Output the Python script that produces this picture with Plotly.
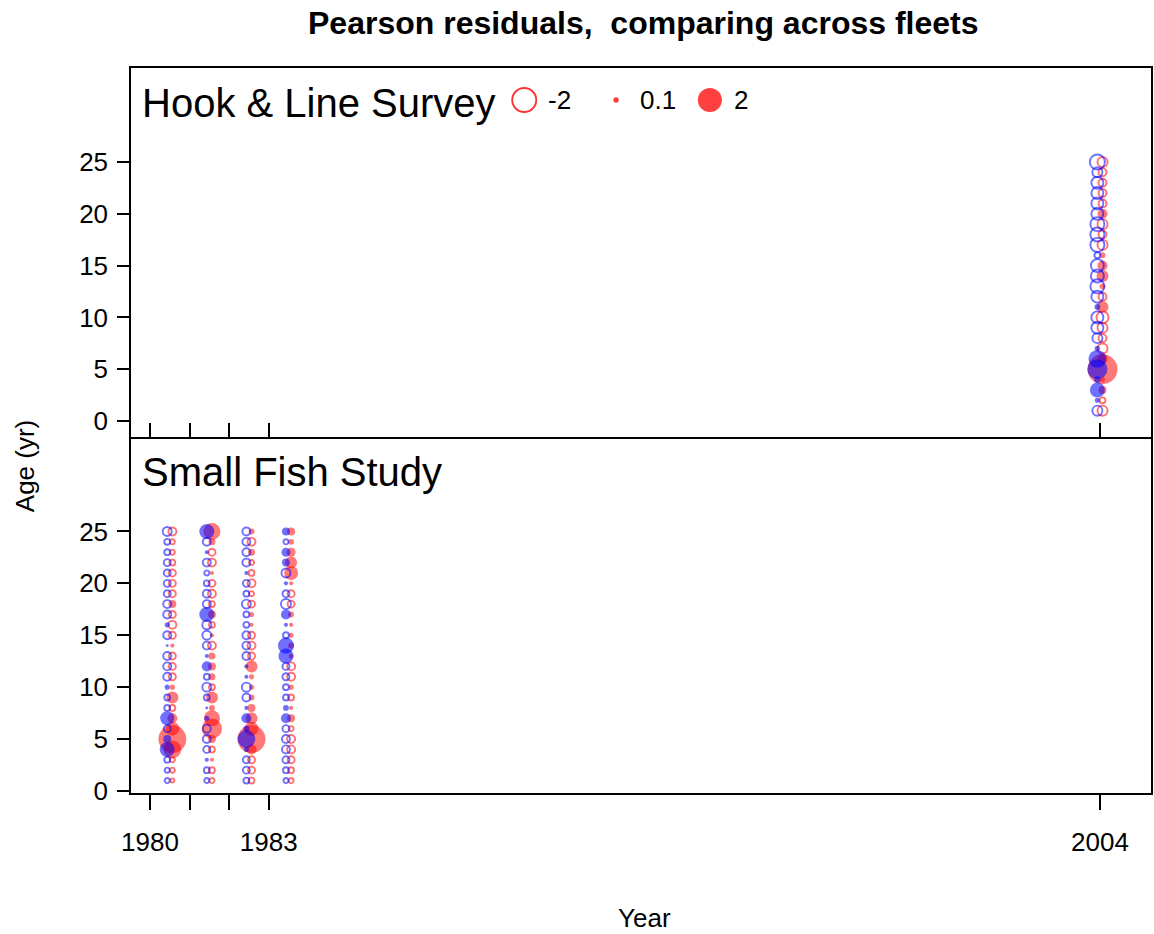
import numpy as np
import plotly.graph_objects as go

# ---------------- data ----------------
ages = list(range(1, 26))

hkl_years = [2004.0]
sfs_years = [1980.5, 1981.5, 1982.5, 1983.5]

# Hook & Line Survey, 2004 (ages 1..25)
hkl_f = [[-0.35, -0.12, 0.22, 0.09, 3.1, 0.35, -0.35, -0.22, -0.35, -0.5,
          0.5, -0.22, 0.12, 0.5, 0.35, 0.12, -0.35, -0.22, -0.35, 0.35,
          -0.22, -0.22, -0.22, -0.22, -0.35]]
hkl_m = [[-0.35, 0.09, 0.78, 0.15, 1.4, 1.1, 0.1, -0.35, -0.5, -0.5,
          0.12, -0.5, -0.68, -0.58, -0.58, -0.12, -0.68, -0.68, -0.68, -0.5,
          -0.5, -0.5, -0.5, -0.35, -0.78]]

# Small Fish Study, 1980-1983 (ages 1..25)
sfs_f = [
    [-0.055, -0.09, -0.09, 1.1, 2.7, 0.68, 0.35, -0.12, 0.5, 0.09,
     -0.17, -0.17, -0.17, 0.06, -0.17, -0.22, -0.17, 0.22, -0.17, -0.17,
     -0.17, -0.12, -0.09, -0.09, -0.22],
    [-0.09, -0.12, 0.06, -0.12, 0.22, 1.4, 0.9, 0.12, 0.5, -0.12,
     0.17, 0.22, 0.17, -0.22, 0.06, -0.12, 0.22, -0.12, -0.22, -0.17,
     0.06, -0.22, -0.17, 0.17, 1.0],
    [-0.12, -0.17, -0.17, 0.35, 2.7, 0.68, 0.5, 0.22, 0.12, 0.09,
     0.09, 0.5, -0.17, -0.22, -0.17, 0.06, 0.09, -0.17, -0.09, -0.22,
     -0.12, -0.09, 0.17, -0.22, 0.12],
    [-0.09, -0.12, -0.17, -0.22, -0.22, -0.09, 0.22, 0.06, -0.12, 0.09,
     -0.22, -0.22, 0.09, 0.12, 0.09, 0.06, 0.12, -0.17, -0.17, 0.06,
     0.68, 0.5, 0.28, 0.12, 0.22],
]
sfs_m = [
    [-0.09, -0.09, -0.12, 0.78, 0.22, -0.17, 0.68, -0.12, -0.12, 0.09,
     -0.22, -0.22, -0.22, 0.03, -0.22, 0.09, -0.22, -0.22, -0.17, -0.17,
     -0.17, -0.17, -0.12, -0.12, -0.28],
    [-0.09, -0.12, 0.06, -0.17, -0.22, -0.22, 0.09, 0.03, -0.12, -0.28,
     -0.12, 0.35, 0.06, -0.22, -0.28, -0.28, 0.78, -0.22, -0.22, -0.12,
     -0.09, -0.22, 0.06, -0.22, 0.78],
    [-0.12, -0.17, -0.17, 0.09, 1.1, 0.12, 0.35, 0.06, -0.22, -0.28,
     0.06, 0.06, -0.22, -0.22, -0.22, -0.12, -0.12, -0.28, -0.12, -0.17,
     0.06, -0.22, -0.22, -0.22, -0.22],
    [-0.09, -0.12, -0.17, -0.22, -0.22, -0.17, 0.35, 0.12, -0.12, -0.12,
     -0.17, -0.17, 0.78, 0.89, -0.12, 0.06, 0.35, -0.35, -0.17, 0.06,
     -0.28, 0.22, 0.28, -0.09, 0.22],
]

legend_vals = [-2, 0.1, 2]
legend_labels = ["-2", "0.1", "2"]

panel_names = ["Hook & Line Survey", "Small Fish Study"]
xtick_vals = [1980, 1981, 1982, 1983, 2004]
xtick_text = ["1980", "", "", "1983", "2004"]
ytick_vals = [0, 5, 10, 15, 20, 25]

# ---------------- styling ----------------
FONT = "Liberation Sans, Arial, sans-serif"
RED_FILL = "rgba(255,0,0,0.75)"
BLUE_FILL = "rgba(0,0,255,0.8)"
RED_LINE = "rgba(255,0,0,0.8)"
BLUE_LINE = "rgba(0,0,255,0.8)"
RING_W = 1.9
SCALE = 17.0      # px diameter for |z| = 1
SEX_OFF = 0.065   # year offset between sexes

W, H = 1154, 934
L, R, T, B = 131, 1, 68, 141
PW, PH = W - L - R, H - T - B
SPLIT_PX = 437    # shared edge between the two panels


def px_x(px):
    return (px - L) / PW


def px_y(py):
    return (H - B - py) / PH


def size_of(z):
    return SCALE * np.sqrt(np.abs(np.asarray(z, dtype=float)))


fig = go.Figure()


def add_bubbles(years, vals, off, fill, line, xa, ya):
    xs, ys, zs = [], [], []
    for yr, col in zip(years, vals):
        for a, z in zip(ages, col):
            xs.append(yr + off)
            ys.append(a)
            zs.append(z)
    xs, ys, zs = np.array(xs), np.array(ys), np.array(zs)
    pos = zs >= 0
    neg = ~pos
    fig.add_trace(go.Scatter(
        x=xs[neg], y=ys[neg], mode="markers", xaxis=xa, yaxis=ya,
        marker=dict(symbol="circle-open", size=size_of(zs[neg]),
                    color=line, line=dict(width=RING_W, color=line)),
        showlegend=False, hoverinfo="skip"))
    fig.add_trace(go.Scatter(
        x=xs[pos], y=ys[pos], mode="markers", xaxis=xa, yaxis=ya,
        marker=dict(symbol="circle", size=size_of(zs[pos]),
                    color=fill, line=dict(width=0)),
        showlegend=False, hoverinfo="skip"))


# top panel: HKL (x, y); bottom panel: SFS (x2, y2)
add_bubbles(hkl_years, hkl_f, +SEX_OFF, RED_FILL, RED_LINE, "x", "y")
add_bubbles(hkl_years, hkl_m, -SEX_OFF, BLUE_FILL, BLUE_LINE, "x", "y")
add_bubbles(sfs_years, sfs_f, +SEX_OFF, RED_FILL, RED_LINE, "x2", "y2")
add_bubbles(sfs_years, sfs_m, -SEX_OFF, BLUE_FILL, BLUE_LINE, "x2", "y2")

# legend on a pixel overlay axis (over the top panel)
leg_x = [525, 617, 711]
leg_y = 100
for v, lx, lab in zip(legend_vals, leg_x, legend_labels):
    s = float(size_of(v))
    if v < 0:
        mk = dict(symbol="circle-open", size=s, color=RED_LINE,
                  line=dict(width=RING_W, color=RED_LINE))
    else:
        mk = dict(symbol="circle", size=s, color=RED_FILL, line=dict(width=0))
    fig.add_trace(go.Scatter(x=[lx], y=[leg_y], mode="markers", xaxis="x3",
                             yaxis="y3", marker=mk, showlegend=False,
                             hoverinfo="skip"))
    fig.add_annotation(x=px_x(lx + 22), y=px_y(leg_y), xref="paper",
                       yref="paper", text=lab, showarrow=False,
                       xanchor="left", yanchor="middle",
                       font=dict(family=FONT, size=26, color="black"))

xr = [1979.52, 2005.29]
yr_top = [-1.54, 34.07]
yr_bot = [-0.2, 34.1]

line_common = dict(showline=True, linecolor="black", linewidth=1.5,
                   showgrid=False, zeroline=False,
                   tickcolor="black", tickwidth=1.5)

fig.update_layout(
    width=W, height=H, autosize=False,
    margin=dict(l=L, r=R, t=T, b=B, pad=0),
    paper_bgcolor="white", plot_bgcolor="rgba(0,0,0,0)",
    font=dict(family=FONT, size=26, color="black"),
    # top panel x axis: draws both the top frame and the shared divider
    xaxis=dict(range=xr, domain=[0, 1], anchor="y", tickvals=xtick_vals,
               showticklabels=False, ticks="inside", ticklen=14,
               mirror=True, **line_common),
    yaxis=dict(range=yr_top, domain=[px_y(SPLIT_PX), 1], anchor="x",
               tickvals=ytick_vals, ticks="outside", ticklen=12,
               ticklabelstandoff=4, tickfont=dict(size=26), mirror=True,
               **line_common),
    # bottom panel x axis: only its bottom edge (divider comes from above)
    xaxis2=dict(range=xr, domain=[0, 1], anchor="y2", tickvals=xtick_vals,
                ticktext=xtick_text, ticks="outside", ticklen=15,
                ticklabelstandoff=10, tickfont=dict(size=26), mirror=False,
                **line_common),
    yaxis2=dict(range=yr_bot, domain=[0, px_y(SPLIT_PX)], anchor="x2",
                tickvals=ytick_vals, ticks="outside", ticklen=12,
                ticklabelstandoff=4, tickfont=dict(size=26), mirror=True,
                **line_common),
    xaxis3=dict(range=[L, W - R], anchor="y3", visible=False,
                overlaying="x"),
    yaxis3=dict(range=[SPLIT_PX, T], anchor="x3", visible=False,
                overlaying="y"),
)

# panel labels
fig.add_annotation(x=px_x(140), y=px_y(103), xref="paper", yref="paper",
                   text=panel_names[0], showarrow=False, xanchor="left",
                   yanchor="middle", font=dict(family=FONT, size=40))
fig.add_annotation(x=px_x(140), y=px_y(472), xref="paper", yref="paper",
                   text=panel_names[1], showarrow=False, xanchor="left",
                   yanchor="middle", font=dict(family=FONT, size=40))

# title and axis titles
fig.add_annotation(x=px_x(645), y=px_y(23), xref="paper", yref="paper",
                   text="<b>Pearson residuals,  comparing across fleets</b>",
                   showarrow=False, xanchor="center", yanchor="middle",
                   font=dict(family=FONT, size=32))
fig.add_annotation(x=px_x(646), y=px_y(918), xref="paper", yref="paper",
                   text="Year", showarrow=False, xanchor="center",
                   yanchor="middle", font=dict(family=FONT, size=26))
fig.add_annotation(x=px_x(25), y=px_y(466), xref="paper", yref="paper",
                   text="Age (yr)", showarrow=False, xanchor="center",
                   yanchor="middle", textangle=-90,
                   font=dict(family=FONT, size=26))

fig.write_html(
    "out.html",
    config={"responsive": False, "displayModeBar": False},
    post_script="document.body.style.margin='0px';"
                "document.body.style.overflow='hidden';",
)
